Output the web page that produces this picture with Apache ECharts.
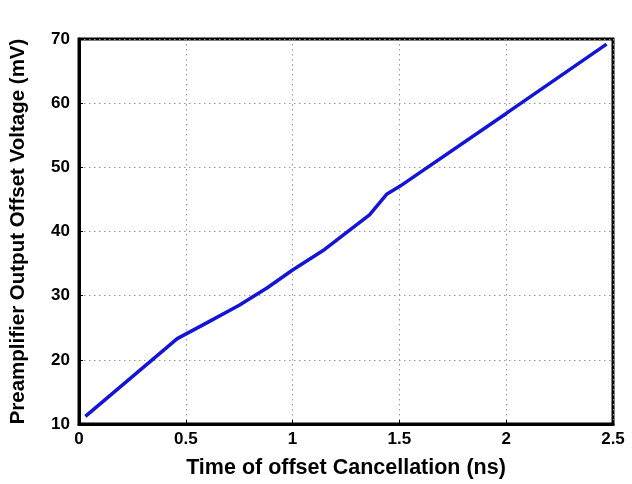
<!DOCTYPE html>
<html>
<head>
<meta charset="utf-8">
<title>offset</title>
<script src="https://cdn.jsdelivr.net/npm/echarts@6/dist/echarts.min.js"></script>
<style>
  body { margin: 0; background: #fff; }
  #main { width: 632px; height: 484px; }
</style>
</head>
<body>
<div id="main"></div>
<script>
var timeNs = [0.03, 0.46, 0.6, 0.75, 0.88, 1.0, 1.15, 1.36, 1.44, 1.5, 2.0, 2.47];
var offsetMv = [11.2, 23.3, 25.8, 28.5, 31.2, 34.0, 37.2, 42.6, 45.8, 47.0, 58.4, 69.2];

var pts = [];
for (var i = 0; i < timeNs.length; i++) pts.push([timeNs[i], offsetMv[i]]);

var chart = echarts.init(document.getElementById('main'));
var lbl = { color: '#000', fontFamily: 'Liberation Sans, Arial', fontWeight: 'bold', fontSize: 17 };
var ttl = { color: '#000', fontFamily: 'Liberation Sans, Arial', fontWeight: 'bold' };

chart.setOption({
  animation: false,
  grid: { left: 78, right: 19, top: 39, bottom: 60, show: true, borderColor: '#000', borderWidth: 3, backgroundColor: 'transparent' },
  xAxis: {
    type: 'value', min: 0, max: 2.5, interval: 0.5,
    name: 'Time of offset Cancellation (ns)', nameLocation: 'middle', nameGap: 33,
    nameTextStyle: Object.assign({ fontSize: 21.5 }, ttl),
    axisLine: { lineStyle: { color: '#000', width: 3 } },
    axisTick: { inside: true, length: 4, lineStyle: { color: '#000' } },
    axisLabel: Object.assign({ margin: 7 }, lbl),
    splitLine: { show: true, lineStyle: { color: '#999', type: [1.5, 3.5] } }
  },
  yAxis: {
    type: 'value', min: 10, max: 70, interval: 10,
    name: 'Preamplifier Output Offset Voltage (mV)', nameLocation: 'middle', nameGap: 50,
    nameTextStyle: Object.assign({ fontSize: 20.5 }, ttl),
    axisLine: { show: true, lineStyle: { color: '#000', width: 3 } },
    axisTick: { show: true, inside: true, length: 4, lineStyle: { color: '#000' } },
    axisLabel: Object.assign({ margin: 9 }, lbl),
    splitLine: { show: true, lineStyle: { color: '#999', type: [1.5, 3.5] } }
  },
  series: [{
    type: 'line', data: pts, showSymbol: false,
    lineStyle: { color: '#1414d8', width: 3.5 }
  }]
});
</script>
</body>
</html>
